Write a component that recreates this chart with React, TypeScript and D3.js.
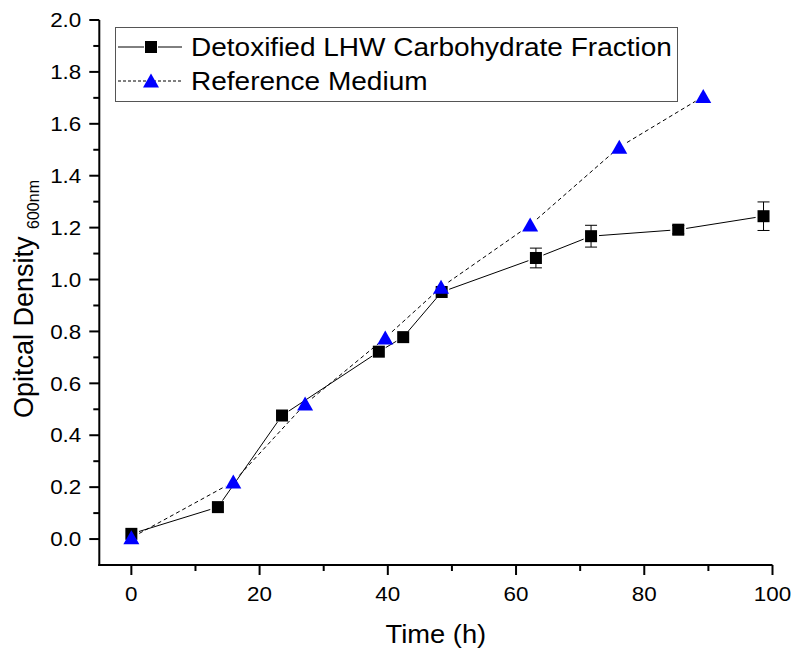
import { useEffect, useRef } from "react";
import * as d3 from "d3";

const detoxTime = [0, 13.5, 23.5, 38.6, 42.4, 48.4, 63.1, 71.7, 85.3, 98.6];
const detoxOD = [0.02, 0.123, 0.476, 0.722, 0.778, 0.952, 1.083, 1.167, 1.192, 1.244];
const detoxErr = [0, 0, 0, 0, 0, 0, 0.038, 0.042, 0.016, 0.055];

const refTime = [0, 15.9, 27.1, 39.6, 48.3, 62.2, 76.1, 89.2];
const refOD = [0.005, 0.22, 0.52, 0.775, 0.97, 1.21, 1.51, 1.705];

const yTicks = [0, 0.2, 0.4, 0.6, 0.8, 1.0, 1.2, 1.4, 1.6, 1.8, 2.0];
const xTicks = [0, 20, 40, 60, 80, 100];

const legendLabels = ["Detoxified LHW Carbohydrate Fraction", "Reference Medium"];

const W = 796;
const H = 649;
const font = "Arial, 'Liberation Sans', sans-serif";

// the source picture is a bit wider than a plain Arial render
const stretch = (sel: d3.Selection<any, any, any, any>, k: number) => {
  sel.each(function () {
    const node = this as SVGTextElement;
    const w = node.getComputedTextLength();
    d3.select(node).attr("textLength", w * k).attr("lengthAdjust", "spacingAndGlyphs");
  });
};

const App = () => {
  const svgRef = useRef<SVGSVGElement>(null);

  useEffect(() => {
    if (!svgRef.current) return;
    const svg = d3.select(svgRef.current);
    svg.selectAll("*").remove();

    const x = d3.scaleLinear().domain([-5, 100]).range([99.3, 772.5]);
    const y = d3.scaleLinear().domain([-0.1, 2.0]).range([565, 20]);

    // axes
    const ax = svg.append("g").attr("stroke", "#000").attr("stroke-width", 2).attr("fill", "none");
    ax.append("line").attr("x1", x(-5)).attr("x2", x(-5)).attr("y1", y(2.0)).attr("y2", y(-0.1) + 1);
    ax.append("line").attr("x1", x(-5) - 1).attr("x2", x(100)).attr("y1", y(-0.1)).attr("y2", y(-0.1));

    d3.range(0, 2.01, 0.1).forEach((v, i) => {
      const len = i % 2 === 0 ? 10 : 6;
      ax.append("line").attr("x1", x(-5) - len).attr("x2", x(-5)).attr("y1", y(v)).attr("y2", y(v));
    });
    d3.range(0, 101, 10).forEach((v, i) => {
      const len = i % 2 === 0 ? 10 : 6;
      ax.append("line").attr("x1", x(v)).attr("x2", x(v)).attr("y1", y(-0.1)).attr("y2", y(-0.1) + len);
    });

    const yl = svg
      .selectAll("text.ytick")
      .data(yTicks)
      .join("text")
      .attr("class", "ytick")
      .attr("x", x(-5) - 18)
      .attr("y", (d) => y(d))
      .attr("dy", "0.36em")
      .attr("text-anchor", "end")
      .attr("font-family", font)
      .attr("font-size", 20)
      .text((d) => d.toFixed(1));
    stretch(yl, 1.12);

    const xl = svg
      .selectAll("text.xtick")
      .data(xTicks)
      .join("text")
      .attr("class", "xtick")
      .attr("x", (d) => x(d))
      .attr("y", y(-0.1) + 36)
      .attr("text-anchor", "middle")
      .attr("font-family", font)
      .attr("font-size", 20)
      .text((d) => d);
    stretch(xl, 1.12);

    // titles
    const xt = svg
      .append("text")
      .attr("x", (x(-5) + x(100)) / 2)
      .attr("y", 643)
      .attr("text-anchor", "middle")
      .attr("font-family", font)
      .attr("font-size", 26)
      .text("Time (h)");
    stretch(xt, 1.05);

    const yt = svg
      .append("text")
      .attr("transform", `translate(33,${299}) rotate(-90)`)
      .attr("text-anchor", "middle")
      .attr("font-family", font)
      .attr("font-size", 27);
    yt.append("tspan").text("Opitcal Density ");
    yt.append("tspan").attr("font-size", 16).attr("dy", 6).text("600nm");

    // series lines with gaps at markers
    const drawSegments = (xs: number[], ys: number[], dash: string | null, gap: number) => {
      const g = svg.append("g").attr("stroke", "#000").attr("stroke-width", 1).attr("fill", "none");
      for (let i = 0; i < xs.length - 1; i++) {
        const x1 = x(xs[i]), y1 = y(ys[i]), x2 = x(xs[i + 1]), y2 = y(ys[i + 1]);
        const L = Math.hypot(x2 - x1, y2 - y1);
        if (L <= 2 * gap) continue;
        const ux = (x2 - x1) / L, uy = (y2 - y1) / L;
        const seg = g
          .append("line")
          .attr("x1", x1 + ux * gap)
          .attr("y1", y1 + uy * gap)
          .attr("x2", x2 - ux * gap)
          .attr("y2", y2 - uy * gap);
        if (dash) seg.attr("stroke-dasharray", dash);
      }
    };
    drawSegments(detoxTime, detoxOD, null, 8);
    drawSegments(refTime, refOD, "4,3", 9);

    // error bars
    const eb = svg.append("g").attr("stroke", "#000").attr("stroke-width", 1);
    detoxTime.forEach((t, i) => {
      const e = detoxErr[i];
      if (!e) return;
      const cx = x(t);
      eb.append("line").attr("x1", cx).attr("x2", cx).attr("y1", y(detoxOD[i] + e)).attr("y2", y(detoxOD[i] - e));
      eb.append("line").attr("x1", cx - 6).attr("x2", cx + 6).attr("y1", y(detoxOD[i] + e)).attr("y2", y(detoxOD[i] + e));
      eb.append("line").attr("x1", cx - 6).attr("x2", cx + 6).attr("y1", y(detoxOD[i] - e)).attr("y2", y(detoxOD[i] - e));
    });

    const sq = 12;
    const triPath = (cx: number, cy: number) => {
      const w = 16, h = 13;
      return `M${cx},${cy - h / 2 - 1}L${cx + w / 2},${cy + h / 2}L${cx - w / 2},${cy + h / 2}Z`;
    };

    svg
      .selectAll("rect.sq")
      .data(detoxTime)
      .join("rect")
      .attr("class", "sq")
      .attr("x", (d) => x(d) - sq / 2)
      .attr("y", (_, i) => y(detoxOD[i]) - sq / 2)
      .attr("width", sq)
      .attr("height", sq)
      .attr("fill", "#000");

    svg
      .selectAll("path.tri")
      .data(refTime)
      .join("path")
      .attr("class", "tri")
      .attr("d", (d, i) => triPath(x(d), y(refOD[i])))
      .attr("fill", "#0000ff");

    // legend
    const lg = svg.append("g");
    lg.append("rect")
      .attr("x", 115.5)
      .attr("y", 27.5)
      .attr("width", 562)
      .attr("height", 74)
      .attr("fill", "#fff")
      .attr("stroke", "#555")
      .attr("stroke-width", 1);
    const rows = [47, 81];
    lg.append("line").attr("x1", 118).attr("x2", 144).attr("y1", rows[0]).attr("y2", rows[0]).attr("stroke", "#000");
    lg.append("line").attr("x1", 158).attr("x2", 182).attr("y1", rows[0]).attr("y2", rows[0]).attr("stroke", "#000");
    lg.append("rect").attr("x", 145).attr("y", rows[0] - 6).attr("width", 12).attr("height", 12).attr("fill", "#000");
    lg.append("line")
      .attr("x1", 118)
      .attr("x2", 182)
      .attr("y1", rows[1])
      .attr("y2", rows[1])
      .attr("stroke", "#000")
      .attr("stroke-dasharray", "3,2");
    lg.append("path").attr("d", triPath(151, rows[1])).attr("fill", "#0000ff");
    const lt = lg
      .selectAll("text.lg")
      .data(legendLabels)
      .join("text")
      .attr("class", "lg")
      .attr("x", 191)
      .attr("y", (_, i) => rows[i])
      .attr("dy", "0.36em")
      .attr("font-family", font)
      .attr("font-size", 25)
      .text((d) => d);
    stretch(lt, 1.12);
  }, []);

  return (
    <svg
      ref={svgRef}
      width={W}
      height={H}
      style={{ position: "absolute", left: 0, top: 0, background: "#fff" }}
    />
  );
};

export default App;
